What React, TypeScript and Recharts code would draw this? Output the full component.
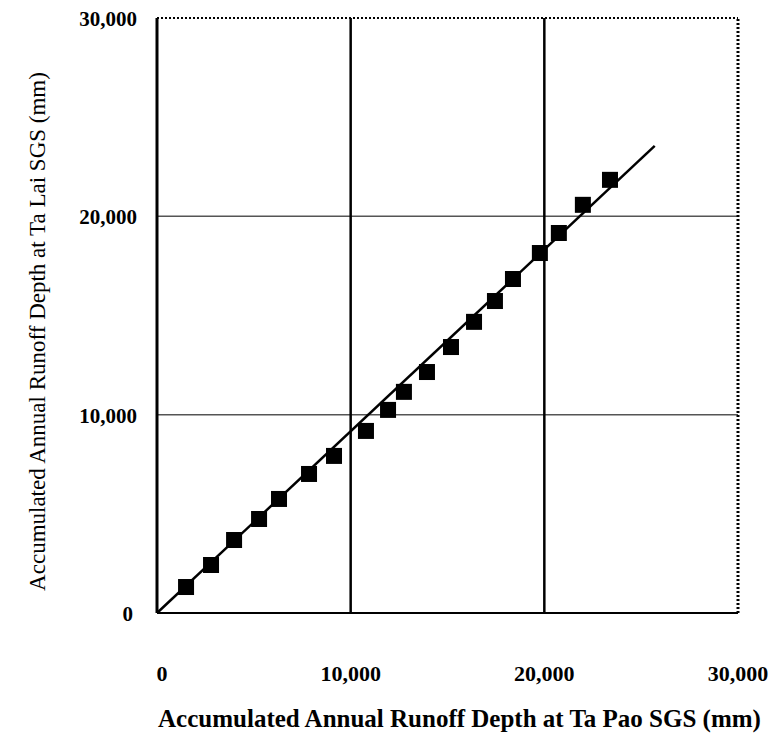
import React from "react";
import {
  Label,
  ReferenceLine,
  Scatter,
  ScatterChart,
  XAxis,
  YAxis,
} from "recharts";

// accumulated runoff (mm): Ta Pao SGS (x) vs Ta Lai SGS (y)
const taPao = [
  1500, 2790, 3980, 5270, 6300, 7850, 9140, 10790, 11930, 12750, 13940, 15180,
  16370, 17450, 18380, 19770, 20750, 21990, 23390,
];
const taLai = [
  1310, 2420, 3680, 4740, 5750, 7010, 7920, 9180, 10240, 11150, 12150, 13410,
  14680, 15730, 16840, 18150, 19160, 20580, 21840,
];

// double-mass fit line end points
const fitX = [0, 25700];
const fitY = [0, 23550];

const axisTicks = [0, 10000, 20000, 30000];
const innerGrid = [10000, 20000];

const points = taPao.map((x, i) => ({ x, y: taLai[i] }));
const fitLine = fitX.map((x, i) => ({ x, y: fitY[i] }));

const serif = "'Liberation Serif', 'Times New Roman', serif";
const fmt = (v: number) => v.toLocaleString("en-US");

const SquareDot = (props: any) => {
  const { cx, cy } = props;
  if (cx == null || cy == null) return <g />;
  return <rect x={cx - 8} y={cy - 8} width={16} height={16} fill="#000" />;
};

const NoDot = () => <g />;

const XTick = (props: any) => {
  const { x, payload } = props;
  const v = payload.value as number;
  return (
    <text
      x={v === 0 ? x + 5 : x}
      y={673}
      textAnchor="middle"
      dominantBaseline="central"
      fontFamily={serif}
      fontWeight="bold"
      fontSize={22}
      fill="#000"
    >
      {fmt(v)}
    </text>
  );
};

const YTick = (props: any) => {
  const { y, payload } = props;
  const v = payload.value as number;
  return (
    <text
      x={v === 0 ? 133 : 137}
      y={y + 1}
      textAnchor="end"
      dominantBaseline="central"
      fontFamily={serif}
      fontWeight="bold"
      fontSize={21}
      fill="#000"
    >
      {fmt(v)}
    </text>
  );
};

export default function App() {
  return (
    <div style={{ position: "absolute", left: 0, top: 0, background: "#fff" }}>
      <ScatterChart
        width={769}
        height={739}
        margin={{ top: 18, right: 31, left: 0, bottom: 0 }}
      >
        <XAxis
          type="number"
          dataKey="x"
          domain={[0, 30000]}
          ticks={axisTicks}
          axisLine={false}
          tickLine={false}
          height={126}
          tick={<XTick />}
          interval={0}
        >
          <Label
            value="Accumulated Annual Runoff Depth at Ta Pao SGS (mm)"
            position="insideBottom"
            offset={12}
            dx={12}
            fontFamily={serif}
            fontWeight="bold"
            fontSize={25}
            fill="#000"
          />
        </XAxis>
        <YAxis
          type="number"
          dataKey="y"
          domain={[0, 30000]}
          ticks={axisTicks}
          axisLine={false}
          tickLine={false}
          width={157}
          tick={<YTick />}
          interval={0}
        >
          <Label
            value="Accumulated Annual Runoff Depth at Ta Lai SGS  (mm)"
            angle={-90}
            position="insideLeft"
            offset={37}
            dy={16}
            fontFamily={serif}
            fontSize={23}
            fill="#000"
            style={{ textAnchor: "middle" }}
          />
        </YAxis>

        {innerGrid.map((v) => (
          <ReferenceLine key={`h${v}`} y={v} stroke="#555" strokeWidth={1.5} />
        ))}
        {innerGrid.map((v) => (
          <ReferenceLine key={`v${v}`} x={v} stroke="#000" strokeWidth={2.5} />
        ))}
        <ReferenceLine y={30000} stroke="#000" strokeWidth={2} strokeDasharray="2 2" />
        <ReferenceLine x={30000} stroke="#000" strokeWidth={3} strokeDasharray="2 2" />
        <ReferenceLine x={0} stroke="#000" strokeWidth={3} />
        <ReferenceLine y={0} stroke="#000" strokeWidth={2} />

        <Scatter
          data={fitLine}
          line={{ stroke: "#000", strokeWidth: 2.5 }}
          shape={<NoDot />}
          isAnimationActive={false}
        />
        <Scatter data={points} shape={<SquareDot />} isAnimationActive={false} />
      </ScatterChart>
    </div>
  );
}
